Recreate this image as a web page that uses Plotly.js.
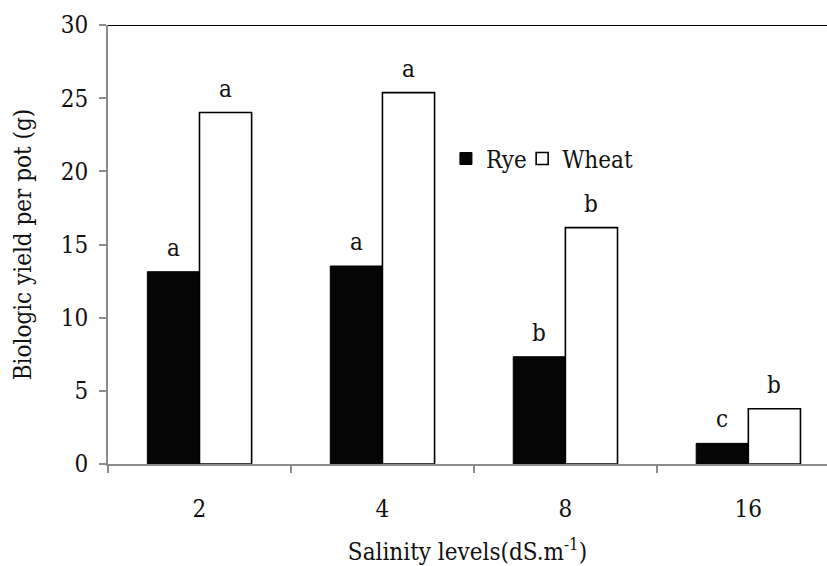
<!DOCTYPE html>
<html><head><meta charset="utf-8">
<script src="https://cdn.plot.ly/plotly-3.0.1.min.js"></script>
<style>body{margin:0;background:#fff}#c{width:827px;height:566px}</style>
</head><body><div id="c"></div>
<script>
var categories = ['2', '4', '8', '16'];
var rye = [13.14, 13.53, 7.33, 1.41];
var wheat = [24.02, 25.38, 16.15, 3.78];
var ryeLetters = ['a', 'a', 'b', 'c'];
var wheatLetters = ['a', 'a', 'b', 'b'];

var font = 'DejaVu Serif Condensed';
var fs = 24;
var traces = [
  {type: 'bar', name: 'Rye', x: categories, y: rye, legend: 'legend',
   marker: {color: '#050505', line: {color: '#000', width: 1}}},
  {type: 'bar', name: 'Wheat', x: categories, y: wheat, legend: 'legend2',
   marker: {color: '#ffffff', line: {color: '#000', width: 1.6}}}
];
var ann = [];
categories.forEach(function (c, i) {
  ann.push({x: i, y: rye[i], xref: 'x', yref: 'y', text: ryeLetters[i], showarrow: false,
    xshift: -26, yshift: 8, yanchor: 'bottom', font: {family: font, size: fs, color: '#111'}});
  ann.push({x: i, y: wheat[i], xref: 'x', yref: 'y', text: wheatLetters[i], showarrow: false,
    xshift: 26, yshift: 8, yanchor: 'bottom', font: {family: font, size: fs, color: '#111'}});
});
var legendStyle = function (xpos) {
  return {orientation: 'h', x: xpos, y: 0.695, xanchor: 'left', yanchor: 'middle',
    font: {family: font, size: fs, color: '#111'}, itemwidth: 30, bgcolor: 'rgba(0,0,0,0)'};
};
var layout = {
  width: 827, height: 566,
  margin: {l: 108, r: 0, t: 25, b: 102},
  paper_bgcolor: '#fff', plot_bgcolor: '#fff',
  font: {family: font, size: fs, color: '#111'},
  barmode: 'group', bargap: 0.43, bargroupgap: 0,
  showlegend: true,
  legend: legendStyle(0.47),
  legend2: legendStyle(0.576),
  xaxis: {type: 'category', range: [-0.5, 3.43], showline: true, linecolor: '#8c8c8c', linewidth: 2,
    ticks: 'outside', tickson: 'boundaries', ticklen: 7, tickcolor: '#8c8c8c', tickwidth: 1.5,
    ticklabelstandoff: 22,
    showgrid: false, zeroline: false, tickfont: {family: font, size: fs},
    title: {text: 'Salinity levels(dS.m<sup>-1</sup>)', font: {family: font, size: fs}, standoff: 24}},
  yaxis: {range: [0, 30], dtick: 5, showline: true, linecolor: '#8c8c8c', linewidth: 2,
    ticks: 'outside', ticklen: 7, tickcolor: '#8c8c8c', tickwidth: 1.5,
    ticklabelstandoff: 6,
    showgrid: false, zeroline: false, tickfont: {family: font, size: fs},
    title: {text: 'Biologic yield per pot (g)', font: {family: font, size: fs}, standoff: 22}},
  shapes: [{type: 'line', xref: 'paper', yref: 'y', x0: 0, x1: 1, y0: 30, y1: 30,
    line: {color: '#000', width: 2}}],
  annotations: ann
};
Plotly.newPlot('c', traces, layout, {displayModeBar: false});
</script></body></html>
